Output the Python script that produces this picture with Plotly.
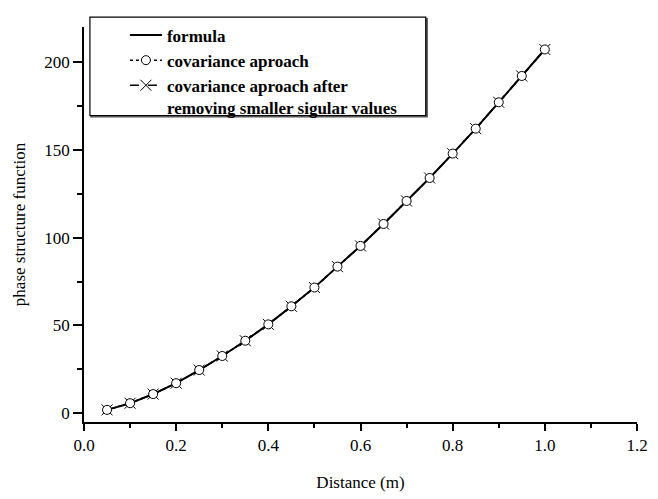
import plotly.graph_objects as go

distance = [0.05, 0.10, 0.15, 0.20, 0.25, 0.30, 0.35, 0.40, 0.45, 0.50,
            0.55, 0.60, 0.65, 0.70, 0.75, 0.80, 0.85, 0.90, 0.95, 1.00]
formula = [1.9, 5.7, 10.9, 17.1, 24.6, 32.6, 41.3, 50.6, 60.9, 71.6,
           83.5, 95.3, 107.8, 120.9, 134.0, 147.9, 162.1, 177.1, 192.1, 207.2]
covariance = [1.9, 5.7, 10.9, 17.1, 24.6, 32.6, 41.3, 50.6, 60.9, 71.6,
              83.5, 95.3, 107.8, 120.9, 134.0, 147.9, 162.1, 177.1, 192.1, 207.2]
covariance_svd = [1.9, 5.7, 10.9, 17.1, 24.6, 32.6, 41.3, 50.6, 60.9, 71.6,
                  83.5, 95.3, 107.8, 120.9, 134.0, 147.9, 162.1, 177.1, 192.1, 207.2]

names = ["formula", "covariance aproach",
         "covariance aproach after<br>removing smaller sigular values"]

FONT = "Liberation Serif, Times New Roman, serif"

fig = go.Figure()
fig.add_trace(go.Scatter(
    x=distance, y=formula, mode="lines", name=names[0], legendrank=1,
    line=dict(color="black", width=2)))
fig.add_trace(go.Scatter(
    x=distance, y=covariance_svd, mode="lines+markers", name=names[2], legendrank=3,
    line=dict(color="black", width=1.5, dash="dash"),
    marker=dict(symbol="x-thin-open", size=11, color="black",
                line=dict(color="black", width=1))))
fig.add_trace(go.Scatter(
    x=distance, y=covariance, mode="lines+markers", name=names[1], legendrank=2,
    line=dict(color="black", width=1.5, dash="dot"),
    marker=dict(symbol="circle", size=9, color="white",
                line=dict(color="black", width=1))))

# legend frame (paper coordinates) with a slight shadow
fig.add_shape(type="rect", xref="paper", yref="paper",
              x0=0.0125, x1=0.6205, y0=0.7725, y1=1.021,
              line=dict(color="#555555", width=1.5), fillcolor="#555555", layer="above")
fig.add_shape(type="rect", xref="paper", yref="paper",
              x0=0.0107, x1=0.618, y0=0.776, y1=1.025,
              line=dict(color="black", width=1.2), fillcolor="white", layer="above")

# page body has an 8px default margin, so the figure is 650x491 to fill the 658x499 window
fig.update_layout(
    width=650, height=491,
    margin=dict(l=75, r=15, t=10, b=70),
    paper_bgcolor="white", plot_bgcolor="white",
    font=dict(family=FONT, size=17, color="black"),
    showlegend=True,
    legend=dict(
        x=0.074, y=1.024, xanchor="left", yanchor="top",
        bgcolor="rgba(0,0,0,0)", borderwidth=0,
        font=dict(family=FONT, size=17, color="black", weight="bold"),
        valign="top", tracegroupgap=0, itemwidth=32,
    ),
    xaxis=dict(
        range=[0, 1.2], dtick=0.2, tickformat=".1f",
        showline=True, linecolor="black", linewidth=1.5,
        ticks="outside", ticklen=7, tickwidth=1.5, tickcolor="black",
        minor=dict(dtick=0.1, ticks="outside", ticklen=4, tickwidth=1.5, tickcolor="black"),
        showgrid=False, zeroline=False,
        title=dict(text="Distance (m)", font=dict(family=FONT, size=17), standoff=22),
        tickfont=dict(family=FONT, size=17),
    ),
    yaxis=dict(
        range=[-5, 220], dtick=50,
        showline=True, linecolor="black", linewidth=1.5,
        ticks="outside", ticklen=9, tickwidth=1.5, tickcolor="black",
        minor=dict(dtick=25, ticks="outside", ticklen=5, tickwidth=1.5, tickcolor="black"),
        showgrid=False, zeroline=False,
        title=dict(text="phase structure function", font=dict(family=FONT, size=17), standoff=14),
        tickfont=dict(family=FONT, size=17),
    ),
)

fig.write_html("out.html")
